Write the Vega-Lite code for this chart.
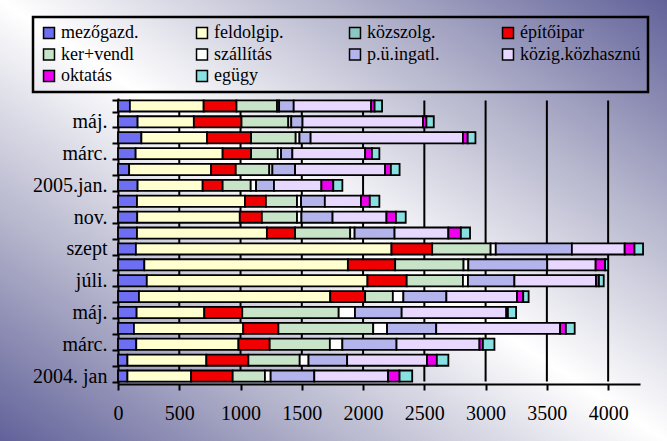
{
  "$schema": "https://vega.github.io/schema/vega-lite/v6.json",
  "width": 667,
  "height": 441,
  "autosize": "none",
  "padding": 0,
  "background": "#ffffff",
  "view": {
    "stroke": null,
    "fill": {"gradient": "linear", "x1": 0, "y1": 1, "x2": 1, "y2": 0,
      "stops": [{"offset": 0, "color": "#62629a"}, {"offset": 0.25, "color": "#b4b4cc"}, {"offset": 0.5, "color": "#ffffff"}, {"offset": 0.75, "color": "#b4b4cc"}, {"offset": 1, "color": "#62629a"}]}
  },
  "datasets": {
    "cats": [{"s":"mezőgazd.","k":1},{"s":"feldolgip.","k":2},{"s":"közszolg.","k":3},{"s":"építőipar","k":4},{"s":"ker+vendl","k":5},{"s":"szállítás","k":6},{"s":"p.ü.ingatl.","k":7},{"s":"közig.közhasznú","k":8},{"s":"oktatás","k":9},{"s":"egügy","k":10}]
  },
  "config": {
    "font": "Times New Roman",
    "axis": {"labelFont": "Times New Roman", "labelFontSize": 20, "labelColor": "#000000", "domainColor": "#000000", "domainWidth": 2, "tickColor": "#000000", "tickWidth": 2, "grid": false, "title": null},
    "legend": {"strokeColor": "#000000", "strokeWidth": 2.5}
  },
  "layer": [
    {
      "data": {"values": [{"g": 500}, {"g": 1000}, {"g": 1500}, {"g": 2000}, {"g": 2500}, {"g": 3000}, {"g": 3500}, {"g": 4000}]},
      "mark": {"type": "rule", "color": "#000000", "strokeWidth": 2},
      "encoding": {
        "x": {"field": "g", "type": "quantitative"},
        "y": {"datum": "2005-06", "type": "ordinal", "bandPosition": 0},
        "y2": {"datum": "2004-01", "bandPosition": 1}
      }
    },
    {
      "data": {"values": [
        {"h":"2005-06","s":"mezőgazd.","v":97},{"h":"2005-06","s":"feldolgip.","v":602},{"h":"2005-06","s":"építőipar","v":268},{"h":"2005-06","s":"ker+vendl","v":331},{"h":"2005-06","s":"szállítás","v":17},{"h":"2005-06","s":"p.ü.ingatl.","v":119},{"h":"2005-06","s":"közig.közhasznú","v":632},{"h":"2005-06","s":"oktatás","v":28},{"h":"2005-06","s":"egügy","v":61},
        {"h":"2005-05","s":"mezőgazd.","v":160},{"h":"2005-05","s":"feldolgip.","v":459},{"h":"2005-05","s":"építőipar","v":389},{"h":"2005-05","s":"ker+vendl","v":382},{"h":"2005-05","s":"szállítás","v":24},{"h":"2005-05","s":"p.ü.ingatl.","v":92},{"h":"2005-05","s":"közig.közhasznú","v":983},{"h":"2005-05","s":"oktatás","v":28},{"h":"2005-05","s":"egügy","v":60},
        {"h":"2005-04","s":"mezőgazd.","v":191},{"h":"2005-04","s":"feldolgip.","v":536},{"h":"2005-04","s":"építőipar","v":359},{"h":"2005-04","s":"ker+vendl","v":364},{"h":"2005-04","s":"szállítás","v":31},{"h":"2005-04","s":"p.ü.ingatl.","v":91},{"h":"2005-04","s":"közig.közhasznú","v":1243},{"h":"2005-04","s":"oktatás","v":39},{"h":"2005-04","s":"egügy","v":63},
        {"h":"2005-03","s":"mezőgazd.","v":144},{"h":"2005-03","s":"feldolgip.","v":710},{"h":"2005-03","s":"építőipar","v":232},{"h":"2005-03","s":"ker+vendl","v":218},{"h":"2005-03","s":"szállítás","v":27},{"h":"2005-03","s":"p.ü.ingatl.","v":92},{"h":"2005-03","s":"közig.közhasznú","v":594},{"h":"2005-03","s":"oktatás","v":55},{"h":"2005-03","s":"egügy","v":61},
        {"h":"2005-02","s":"mezőgazd.","v":91},{"h":"2005-02","s":"feldolgip.","v":669},{"h":"2005-02","s":"építőipar","v":201},{"h":"2005-02","s":"ker+vendl","v":274},{"h":"2005-02","s":"szállítás","v":25},{"h":"2005-02","s":"p.ü.ingatl.","v":185},{"h":"2005-02","s":"közig.közhasznú","v":735},{"h":"2005-02","s":"oktatás","v":47},{"h":"2005-02","s":"egügy","v":71},
        {"h":"2005-01","s":"mezőgazd.","v":160},{"h":"2005-01","s":"feldolgip.","v":531},{"h":"2005-01","s":"építőipar","v":163},{"h":"2005-01","s":"ker+vendl","v":229},{"h":"2005-01","s":"szállítás","v":44},{"h":"2005-01","s":"p.ü.ingatl.","v":146},{"h":"2005-01","s":"közig.közhasznú","v":387},{"h":"2005-01","s":"oktatás","v":97},{"h":"2005-01","s":"egügy","v":74},
        {"h":"2004-12","s":"mezőgazd.","v":155},{"h":"2004-12","s":"feldolgip.","v":881},{"h":"2004-12","s":"építőipar","v":171},{"h":"2004-12","s":"ker+vendl","v":254},{"h":"2004-12","s":"szállítás","v":33},{"h":"2004-12","s":"p.ü.ingatl.","v":194},{"h":"2004-12","s":"közig.közhasznú","v":295},{"h":"2004-12","s":"oktatás","v":72},{"h":"2004-12","s":"egügy","v":78},
        {"h":"2004-11","s":"mezőgazd.","v":157},{"h":"2004-11","s":"feldolgip.","v":837},{"h":"2004-11","s":"építőipar","v":180},{"h":"2004-11","s":"ker+vendl","v":287},{"h":"2004-11","s":"szállítás","v":36},{"h":"2004-11","s":"p.ü.ingatl.","v":254},{"h":"2004-11","s":"közig.közhasznú","v":440},{"h":"2004-11","s":"oktatás","v":77},{"h":"2004-11","s":"egügy","v":80},
        {"h":"2004-10","s":"mezőgazd.","v":155},{"h":"2004-10","s":"feldolgip.","v":1060},{"h":"2004-10","s":"építőipar","v":230},{"h":"2004-10","s":"ker+vendl","v":450},{"h":"2004-10","s":"szállítás","v":36},{"h":"2004-10","s":"p.ü.ingatl.","v":326},{"h":"2004-10","s":"közig.közhasznú","v":439},{"h":"2004-10","s":"oktatás","v":102},{"h":"2004-10","s":"egügy","v":75},
        {"h":"2004-09","s":"mezőgazd.","v":146},{"h":"2004-09","s":"feldolgip.","v":2086},{"h":"2004-09","s":"építőipar","v":332},{"h":"2004-09","s":"ker+vendl","v":477},{"h":"2004-09","s":"szállítás","v":42},{"h":"2004-09","s":"p.ü.ingatl.","v":621},{"h":"2004-09","s":"közig.közhasznú","v":431},{"h":"2004-09","s":"oktatás","v":80},{"h":"2004-09","s":"egügy","v":70},
        {"h":"2004-08","s":"mezőgazd.","v":215},{"h":"2004-08","s":"feldolgip.","v":1661},{"h":"2004-08","s":"építőipar","v":386},{"h":"2004-08","s":"ker+vendl","v":558},{"h":"2004-08","s":"szállítás","v":39},{"h":"2004-08","s":"p.ü.ingatl.","v":644},{"h":"2004-08","s":"közig.közhasznú","v":395},{"h":"2004-08","s":"oktatás","v":77},{"h":"2004-08","s":"egügy","v":25},
        {"h":"2004-07","s":"mezőgazd.","v":235},{"h":"2004-07","s":"feldolgip.","v":1801},{"h":"2004-07","s":"építőipar","v":320},{"h":"2004-07","s":"ker+vendl","v":459},{"h":"2004-07","s":"szállítás","v":41},{"h":"2004-07","s":"p.ü.ingatl.","v":379},{"h":"2004-07","s":"közig.közhasznú","v":666},{"h":"2004-07","s":"oktatás","v":24},{"h":"2004-07","s":"egügy","v":39},
        {"h":"2004-06","s":"mezőgazd.","v":171},{"h":"2004-06","s":"feldolgip.","v":1561},{"h":"2004-06","s":"építőipar","v":285},{"h":"2004-06","s":"ker+vendl","v":226},{"h":"2004-06","s":"szállítás","v":86},{"h":"2004-06","s":"p.ü.ingatl.","v":351},{"h":"2004-06","s":"közig.közhasznú","v":577},{"h":"2004-06","s":"oktatás","v":50},{"h":"2004-06","s":"egügy","v":44},
        {"h":"2004-05","s":"mezőgazd.","v":152},{"h":"2004-05","s":"feldolgip.","v":552},{"h":"2004-05","s":"építőipar","v":310},{"h":"2004-05","s":"ker+vendl","v":787},{"h":"2004-05","s":"szállítás","v":133},{"h":"2004-05","s":"p.ü.ingatl.","v":381},{"h":"2004-05","s":"közig.közhasznú","v":854},{"h":"2004-05","s":"oktatás","v":13},{"h":"2004-05","s":"egügy","v":67},
        {"h":"2004-04","s":"mezőgazd.","v":130},{"h":"2004-04","s":"feldolgip.","v":892},{"h":"2004-04","s":"építőipar","v":287},{"h":"2004-04","s":"ker+vendl","v":774},{"h":"2004-04","s":"szállítás","v":113},{"h":"2004-04","s":"p.ü.ingatl.","v":401},{"h":"2004-04","s":"közig.közhasznú","v":1011},{"h":"2004-04","s":"oktatás","v":47},{"h":"2004-04","s":"egügy","v":72},
        {"h":"2004-03","s":"mezőgazd.","v":149},{"h":"2004-03","s":"feldolgip.","v":834},{"h":"2004-03","s":"építőipar","v":255},{"h":"2004-03","s":"ker+vendl","v":491},{"h":"2004-03","s":"szállítás","v":102},{"h":"2004-03","s":"p.ü.ingatl.","v":442},{"h":"2004-03","s":"közig.közhasznú","v":677},{"h":"2004-03","s":"oktatás","v":28},{"h":"2004-03","s":"egügy","v":94},
        {"h":"2004-02","s":"mezőgazd.","v":77},{"h":"2004-02","s":"feldolgip.","v":644},{"h":"2004-02","s":"építőipar","v":343},{"h":"2004-02","s":"ker+vendl","v":419},{"h":"2004-02","s":"szállítás","v":72},{"h":"2004-02","s":"p.ü.ingatl.","v":315},{"h":"2004-02","s":"közig.közhasznú","v":652},{"h":"2004-02","s":"oktatás","v":80},{"h":"2004-02","s":"egügy","v":94},
        {"h":"2004-01","s":"mezőgazd.","v":77},{"h":"2004-01","s":"feldolgip.","v":520},{"h":"2004-01","s":"építőipar","v":339},{"h":"2004-01","s":"ker+vendl","v":263},{"h":"2004-01","s":"szállítás","v":47},{"h":"2004-01","s":"p.ü.ingatl.","v":356},{"h":"2004-01","s":"közig.közhasznú","v":602},{"h":"2004-01","s":"oktatás","v":94},{"h":"2004-01","s":"egügy","v":103}
      ]},
      "transform": [{"lookup": "s", "from": {"data": {"name": "cats"}, "key": "s", "fields": ["k"]}}],
      "mark": {"type": "bar", "stroke": "#000000", "strokeWidth": 1.8},
      "encoding": {
        "y": {"field": "h", "type": "ordinal", "sort": "descending",
          "scale": {"range": [98, 384], "paddingInner": 0.3, "paddingOuter": 0.15},
          "axis": {"orient": "left", "offset": -118, "tickBand": "extent", "tickSize": 6, "labelPadding": 5,
            "labelExpr": "datum.value=='2004-01'?'2004. jan':(datum.value=='2004-03'||datum.value=='2005-03')?'márc.':(datum.value=='2004-05'||datum.value=='2005-05')?'máj.':datum.value=='2004-07'?'júli.':datum.value=='2004-09'?'szept':datum.value=='2004-11'?'nov.':datum.value=='2005-01'?'2005.jan.':''"}},
        "x": {"field": "v", "type": "quantitative", "stack": "zero",
          "scale": {"domain": [0, 4260], "range": [118, 640], "nice": false, "zero": true},
          "axis": {"orient": "bottom", "offset": -57, "values": [0, 500, 1000, 1500, 2000, 2500, 3000, 3500, 4000], "format": "d", "tickSize": 6, "labelPadding": 13, "labelFlush": false}},
        "order": {"field": "k", "type": "quantitative", "sort": "ascending"},
        "color": {"field": "s", "type": "nominal",
          "scale": {"domain": ["mezőgazd.", "feldolgip.", "közszolg.", "építőipar", "ker+vendl", "szállítás", "p.ü.ingatl.", "közig.közhasznú", "oktatás", "egügy"],
            "range": ["#6e6ef2", "#ffffd0", "#8cc8c2", "#f00000", "#c8e4c8", "#ffffff", "#b4b4ec", "#e8d8ff", "#f000f0", "#88e0e0"]},
          "legend": {"orient": "none", "legendX": 33, "legendY": 17, "columns": 4, "title": null, "direction": "horizontal",
            "gridAlign": "all", "columnPadding": 11, "rowPadding": 3.5, "padding": 7,
            "symbolType": "square", "symbolSize": 120, "symbolStrokeColor": "#000000", "symbolStrokeWidth": 1.5, "symbolOpacity": 1,
            "labelFont": "Times New Roman", "labelFontSize": 18, "labelColor": "#000000", "labelOffset": 3, "labelLimit": 200}}
      }
    }
  ]
}
